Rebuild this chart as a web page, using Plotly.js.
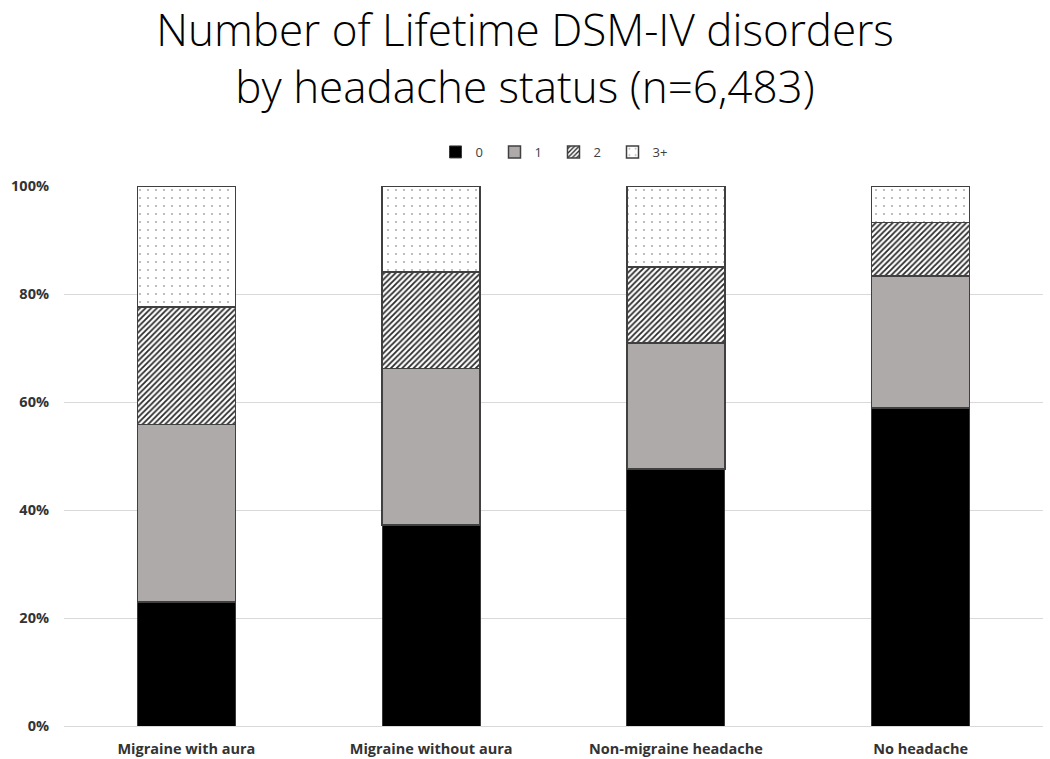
<!DOCTYPE html>
<html>
<head>
<meta charset="utf-8">
<script src="https://cdn.plot.ly/plotly-3.0.1.min.js"></script>
<style>
  html, body { margin: 0; padding: 0; background: #fff; }
  #chart { width: 1050px; height: 759px; }
</style>
</head>
<body>
<div id="chart"></div>
<script>
var groups = ["Migraine with aura", "Migraine without aura", "Non-migraine headache", "No headache"];
var zero_list = [23.0, 37.2, 47.6, 58.9];
var one_list = [32.8, 29.0, 23.3, 24.4];
var two_list = [21.8, 17.9, 14.1, 9.9];
var three_list = [22.4, 15.9, 15.0, 6.8];

var edge = {color: '#404040', width: 1.5};
var tick_font = {family: 'Open Sans', size: 14.5, color: '#333333', weight: 'bold'};

var trace0 = {
    x: groups,
    y: zero_list,
    name: "0",
    type: 'bar',
    marker: {color: '#000000', line: {color: '#3a3a3a', width: 1}}
};

var trace1 = {
    x: groups,
    y: one_list,
    name: "1",
    type: 'bar',
    marker: {color: '#AEAAAA', line: edge}
};

var trace2 = {
    x: groups,
    y: two_list,
    name: "2",
    type: 'bar',
    marker: {
        color: '#ffffff',
        line: edge,
        pattern: {shape: '/', fgcolor: '#2a2a2a', bgcolor: '#ffffff', size: 4, solidity: 0.45}
    }
};

var trace3 = {
    x: groups,
    y: three_list,
    name: "3+",
    type: 'bar',
    marker: {
        color: '#ffffff',
        line: edge,
        pattern: {shape: '.', fgcolor: '#a8a8a8', bgcolor: '#ffffff', size: 8, solidity: 0.05}
    }
};

var data = [trace0, trace1, trace2, trace3];
var layout = {
    width: 1050,
    height: 759,
    barmode: 'stack',
    bargap: 0.6,
    margin: {t: 186, l: 64, r: 7, b: 33, pad: 0},
    paper_bgcolor: '#ffffff',
    plot_bgcolor: '#ffffff',
    showlegend: true,
    title: {
        text: "Number of Lifetime DSM-IV disorders<br>by headache status (n=6,483)",
        font: {family: 'Open Sans', size: 44, color: '#000000', weight: 300},
        x: 0.5,
        xanchor: 'center',
        y: 0.94,
        yanchor: 'top',
        yref: 'container'
    },
    xaxis: {
        showgrid: false,
        showline: false,
        ticks: '',
        ticklabelstandoff: 12,
        tickfont: tick_font
    },
    yaxis: {
        range: [0, 100],
        dtick: 20,
        ticksuffix: '%',
        showgrid: true,
        gridcolor: '#d9d9d9',
        gridwidth: 1,
        zeroline: true,
        zerolinecolor: '#d9d9d9',
        zerolinewidth: 1,
        showline: false,
        ticks: '',
        ticklabelstandoff: 14,
        tickfont: tick_font
    },
    legend: {
        orientation: 'h',
        x: 0.5,
        xanchor: 'center',
        y: 1.063,
        yanchor: 'middle',
        traceorder: 'normal',
        itemwidth: 30,
        entrywidth: 14,
        entrywidthmode: 'pixels',
        font: {family: 'Open Sans', size: 13, color: '#404040'}
    }
};

Plotly.newPlot('chart', data, layout, {displayModeBar: false, staticPlot: true});
</script>
</body>
</html>
